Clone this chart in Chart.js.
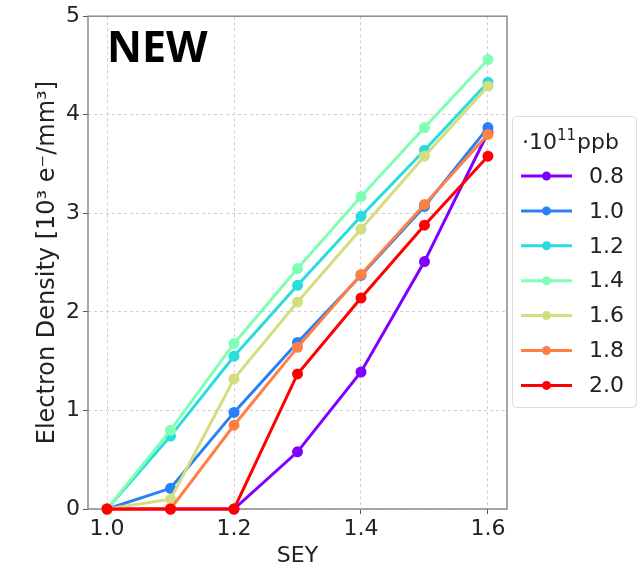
<!DOCTYPE html>
<html>
<head>
<meta charset="utf-8">
<script src="https://cdn.jsdelivr.net/npm/chart.js@4"></script>
<style>
  body { margin: 0; background: #fff; }
  #wrap { width: 641px; height: 576px; }
</style>
</head>
<body>
<div id="wrap"><canvas id="myChart" width="641" height="576"></canvas></div>
<script>
// SEY scan values (x axis)
const sey = [1.0, 1.1, 1.2, 1.3, 1.4, 1.5, 1.6];
const xTicks = [1.0, 1.2, 1.4, 1.6];

// bunch population, in 10^11 ppb
const populations = ['0.8', '1.0', '1.2', '1.4', '1.6', '1.8', '2.0'];

// electron density [10^3 e-/mm^3] per population
const dens08 = [0, 0, 0, 0.58, 1.39, 2.51, 3.82];
const dens10 = [0, 0.21, 0.98, 1.69, 2.37, 3.07, 3.87];
const dens12 = [0, 0.74, 1.55, 2.27, 2.97, 3.64, 4.33];
const dens14 = [0, 0.80, 1.68, 2.44, 3.17, 3.87, 4.56];
const dens16 = [0, 0.10, 1.32, 2.10, 2.84, 3.58, 4.29];
const dens18 = [0, 0, 0.85, 1.64, 2.38, 3.09, 3.80];
const dens20 = [0, 0, 0, 1.37, 2.14, 2.88, 3.58];

const allSeries = [dens08, dens10, dens12, dens14, dens16, dens18, dens20];

// rainbow colormap, 7 steps
const colors = ['#8000ff', '#2a80f6', '#2adddd', '#80ffb4', '#d4dd80', '#ff8042', '#ff0000'];

const tickFont = { family: 'DejaVu Sans', size: 22 };

const datasets = allSeries.map((vals, i) => ({
  label: populations[i],
  data: sey.map((x, j) => ({ x: x, y: vals[j] })),
  borderColor: colors[i],
  backgroundColor: colors[i],
  borderWidth: 3,
  pointRadius: 5.5,
  pointHoverRadius: 5.5,
  pointBorderWidth: 0,
  clip: false,
  order: -i,
}));

// frame round the plot area, drawn under the lines
const framePlugin = {
  id: 'frame',
  beforeDatasetsDraw(chart) {
    const { ctx, chartArea: a } = chart;
    ctx.save();
    ctx.strokeStyle = '#8a8a8a';
    ctx.lineWidth = 1.5;
    ctx.strokeRect(a.left, a.top, a.right - a.left, a.bottom - a.top);
    ctx.restore();
  },
};

// "NEW" tag and the legend box on the right
const annotPlugin = {
  id: 'annot',
  afterDraw(chart) {
    const { ctx, chartArea: a } = chart;
    ctx.save();
    ctx.fillStyle = '#000';
    ctx.font = 'bold 43px "Open Sans"';
    ctx.textBaseline = 'alphabetic';
    ctx.fillText('NEW', a.left + 19, a.top + 46);

    // legend
    const bx = 512, by = 116, bw = 124, bh = 291;
    ctx.fillStyle = 'rgba(255,255,255,0.9)';
    ctx.strokeStyle = '#dcdcdc';
    ctx.lineWidth = 1;
    ctx.beginPath();
    ctx.roundRect(bx + 0.5, by + 0.5, bw, bh, 4);
    ctx.fill();
    ctx.stroke();

    // legend title: ·10, raised 11, ppb
    ctx.fillStyle = '#222';
    ctx.textBaseline = 'alphabetic';
    ctx.textAlign = 'left';
    let tx = bx + 10;
    const ty = by + 33;
    ctx.font = '22px "DejaVu Sans"';
    ctx.fillText('·10', tx, ty);
    tx += ctx.measureText('·10').width;
    ctx.font = '15px "DejaVu Sans"';
    ctx.fillText('11', tx, ty - 9);
    tx += ctx.measureText('11').width + 1;
    ctx.font = '22px "DejaVu Sans"';
    ctx.fillText('ppb', tx, ty);

    ctx.textBaseline = 'middle';
    chart.data.datasets.forEach((ds, i) => {
      const y = by + 60 + i * 34.9;
      ctx.strokeStyle = ds.borderColor;
      ctx.lineWidth = 3;
      ctx.beginPath();
      ctx.moveTo(bx + 9, y);
      ctx.lineTo(bx + 60, y);
      ctx.stroke();
      ctx.fillStyle = ds.borderColor;
      ctx.beginPath();
      ctx.arc(bx + 34.5, y, 4.5, 0, Math.PI * 2);
      ctx.fill();
      ctx.fillStyle = '#222';
      ctx.fillText(ds.label, bx + 77, y + 1);
    });
    ctx.restore();
  },
};

new Chart(document.getElementById('myChart'), {
  type: 'line',
  data: { datasets: datasets },
  options: {
    responsive: false,
    devicePixelRatio: 1,
    animation: false,
    events: [],
    layout: { padding: { top: 15, right: 134, left: 0, bottom: 0 } },
    plugins: {
      legend: { display: false },
      tooltip: { enabled: false },
    },
    scales: {
      x: {
        type: 'linear',
        min: 0.97,
        max: 1.63,
        afterFit: (scale) => { scale.height = 67; },
        afterBuildTicks: (scale) => { scale.ticks = xTicks.map((v) => ({ value: v })); },
        border: { display: false, dash: [3, 3] },
        grid: {
          color: '#cfcfcf',
          tickColor: '#555',
          tickBorderDash: [],
          tickLength: 5,
        },
        ticks: {
          font: tickFont,
          color: '#222',
          padding: 2,
          maxRotation: 0,
          callback: (v) => Number(v).toFixed(1),
        },
        title: {
          display: true,
          text: 'SEY',
          font: { family: 'DejaVu Sans', size: 22 },
          color: '#222',
          padding: { top: 0, bottom: 7 },
        },
      },
      y: {
        min: 0,
        max: 5,
        afterFit: (scale) => { scale.width = 88; },
        border: { display: false, dash: [3, 3] },
        grid: {
          color: '#cfcfcf',
          tickColor: '#555',
          tickBorderDash: [],
          tickLength: 5,
        },
        ticks: {
          stepSize: 1,
          font: tickFont,
          color: '#222',
          padding: 3,
        },
        title: {
          display: true,
          text: 'Electron Density [10³ e⁻/mm³]',
          font: { family: 'DejaVu Sans', size: 24 },
          color: '#222',
          padding: { top: 33, bottom: 0 },
        },
      },
    },
  },
  plugins: [framePlugin, annotPlugin],
});
</script>
</body>
</html>
